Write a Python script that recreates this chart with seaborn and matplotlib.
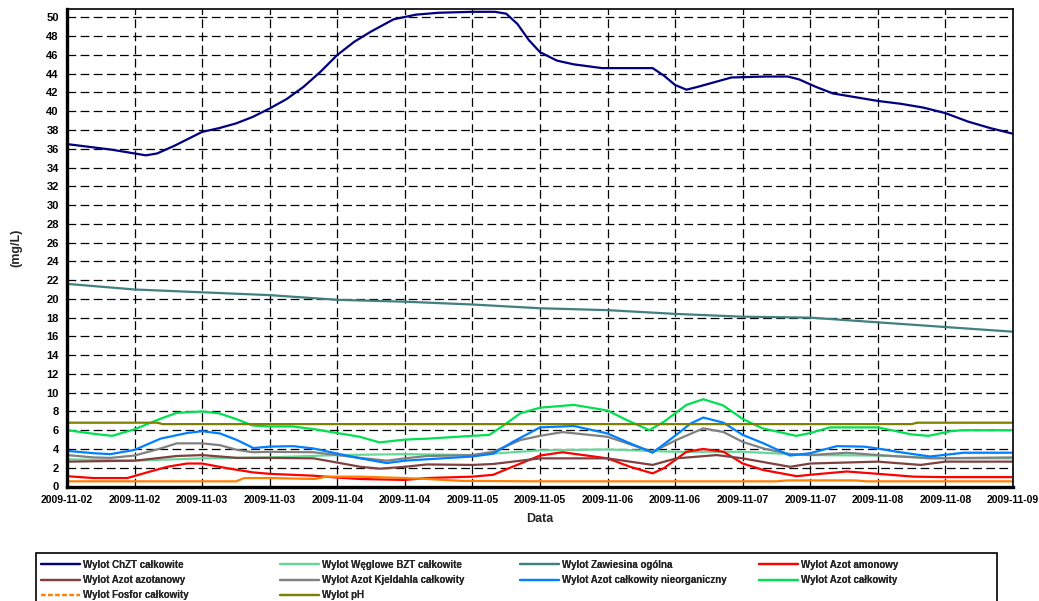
import numpy as np
import pandas as pd
import matplotlib
matplotlib.use("Agg")
import matplotlib.pyplot as plt
import matplotlib.dates as mdates
from matplotlib.lines import Line2D
from matplotlib.patches import Rectangle
from matplotlib.ticker import MultipleLocator
import seaborn as sns

# ---------------- data (hours since 2009-11-02 00:00, mg/L) ----------------
chzt_h = [0, 4, 8, 12, 14, 16, 19, 22, 24, 27, 30, 33, 36, 39, 42, 45, 48, 51, 54, 58,
          62, 66, 72, 76, 78, 80, 82, 84, 87, 90, 95, 100, 104, 106, 108, 110, 112, 115, 118, 124,
          128, 130, 133, 136, 140, 144, 148, 152, 156, 160, 164, 168]
chzt_v = [36.5, 36.2, 35.9, 35.5, 35.3, 35.5, 36.3, 37.2, 37.8, 38.2, 38.7, 39.4, 40.3, 41.3, 42.6, 44.2, 46.0, 47.4, 48.5, 49.8,
          50.3, 50.5, 50.6, 50.6, 50.4, 49.3, 47.6, 46.3, 45.4, 45.0, 44.6, 44.6, 44.6, 43.8, 42.8, 42.3, 42.6, 43.1, 43.6, 43.7,
          43.7, 43.4, 42.6, 41.9, 41.5, 41.1, 40.8, 40.4, 39.8, 38.9, 38.2, 37.6]

bzt_h = [0, 12, 24, 36, 48, 60, 72, 84, 96, 108, 120, 132, 144, 156, 168]
bzt_v = [2.9, 2.75, 3.0, 3.1, 3.35, 3.45, 3.35, 3.85, 3.95, 3.7, 3.7, 3.35, 3.3, 3.0, 3.0]

zaw_h = [0, 12, 24, 36, 48, 60, 72, 84, 96, 108, 120, 132, 144, 156, 168]
zaw_v = [21.6, 21.0, 20.7, 20.4, 19.9, 19.7, 19.4, 19.0, 18.8, 18.4, 18.1, 18.0, 17.5, 17.0, 16.5]

amon_h = [0, 4.7, 10.7, 14.2, 17.8, 21.3, 24, 28.4, 33.1, 36, 43.8, 48, 52.1, 60, 63.9, 72, 75.7, 78.7, 84, 88,
          96, 100, 104, 106, 110, 113, 116.6, 120, 123.7, 129.6, 132, 138.5, 144, 150.4, 156, 168]
amon_v = [1.1, 0.9, 0.9, 1.5, 2.1, 2.45, 2.45, 1.95, 1.5, 1.35, 1.15, 0.95, 0.8, 0.7, 0.9, 1.05, 1.25, 2.0, 3.3, 3.65,
          3.0, 2.1, 1.4, 1.95, 3.7, 4.0, 3.7, 2.45, 1.75, 1.1, 1.25, 1.6, 1.35, 1.05, 1.0, 1.0]

azot_h = [0, 12, 19.5, 24, 30.2, 36, 43.8, 48, 52.1, 55.6, 60, 63.9, 72, 75.7, 84, 96, 104, 108.2, 115.4, 120,
          128.4, 132, 144, 151.6, 156, 168]
azot_v = [2.65, 2.75, 3.25, 3.35, 3.05, 3.05, 3.0, 2.55, 2.1, 1.9, 2.1, 2.35, 2.3, 2.4, 3.0, 3.0, 2.3, 3.0, 3.35, 3.0,
          2.1, 2.45, 2.65, 2.3, 2.65, 2.65]

kjel_h = [0, 4.7, 7.7, 12, 16.6, 19.5, 24, 27.2, 30.2, 33.1, 36, 43.8, 48, 52.1, 56.8, 60, 63.9, 72, 75.7, 80.5,
          84, 88, 96, 100, 104, 108.2, 113, 116.6, 120, 123.7, 128.4, 132, 138.5, 144, 153.3, 168]
kjel_v = [3.35, 3.1, 3.05, 3.3, 4.05, 4.6, 4.6, 4.4, 3.9, 3.65, 3.7, 3.65, 3.35, 3.05, 2.75, 3.0, 3.25, 3.35, 3.7, 4.95,
          5.4, 5.8, 5.3, 4.5, 3.7, 4.95, 6.2, 5.8, 4.75, 4.05, 3.45, 3.35, 3.6, 3.35, 3.0, 3.1]

nieorg_h = [0, 4.7, 7.7, 12, 16.6, 21.3, 24, 27.2, 30.2, 33.1, 36, 40.2, 43.8, 48, 52.1, 56.8, 60, 63.9, 72, 75.7,
            79.3, 84, 90, 96, 100, 104, 108.2, 110.7, 113, 116.6, 120, 123.7, 128.4, 132, 136.7, 141.5, 144, 147.4, 153.3, 159.3,
            168]
nieorg_v = [3.8, 3.55, 3.45, 3.9, 5.1, 5.7, 5.9, 5.65, 4.95, 4.1, 4.25, 4.3, 4.05, 3.5, 3.0, 2.5, 2.75, 2.9, 3.2, 3.5,
            4.8, 6.3, 6.45, 5.65, 4.6, 3.6, 5.5, 6.7, 7.35, 6.8, 5.5, 4.6, 3.3, 3.55, 4.3, 4.25, 4.05, 3.7, 3.2, 3.6,
            3.6]

calk_h = [0, 5, 8, 12, 16.5, 19.5, 24, 27, 30, 33, 36, 40, 44, 48, 52, 55.5, 60, 64, 72, 75,
          77.5, 80.5, 84, 90, 96, 99, 103.4, 106, 110, 113, 116.5, 120, 123.5, 129.5, 132, 135.5, 144, 150, 153, 157,
          159, 168]
calk_v = [6.0, 5.6, 5.4, 6.1, 7.2, 7.85, 8.0, 7.8, 7.2, 6.5, 6.4, 6.4, 6.1, 5.7, 5.3, 4.7, 5.0, 5.1, 5.4, 5.5,
          6.5, 7.8, 8.4, 8.7, 8.1, 7.2, 6.0, 6.9, 8.7, 9.3, 8.65, 7.2, 6.2, 5.4, 5.7, 6.3, 6.3, 5.55, 5.4, 5.9,
          6.0, 6.0]

fosf_h = [0, 30, 31.5, 36, 44, 46, 52, 60, 64, 70, 84, 126, 128, 140, 142, 168]
fosf_v = [0.55, 0.55, 0.9, 0.9, 0.8, 1.05, 1.05, 0.9, 0.8, 0.6, 0.55, 0.55, 0.65, 0.65, 0.55, 0.55]

ph_h = [0, 16, 17, 150, 151, 168]
ph_v = [6.8, 6.8, 6.65, 6.65, 6.8, 6.8]

names = ["Wylot ChZT całkowite", "Wylot Węglowe BZT całkowite", "Wylot Zawiesina ogólna",
         "Wylot Azot amonowy", "Wylot Azot azotanowy", "Wylot Azot Kjeldahla całkowity",
         "Wylot Azot całkowity nieorganiczny", "Wylot Azot całkowity",
         "Wylot Fosfor całkowity", "Wylot pH"]
colors = ["#000080", "#66d999", "#408080", "#ff0000", "#804040", "#808080",
          "#0080ff", "#00e050", "#ff8000", "#808000"]
series = [(chzt_h, chzt_v), (bzt_h, bzt_v), (zaw_h, zaw_v), (amon_h, amon_v),
          (azot_h, azot_v), (kjel_h, kjel_v), (nieorg_h, nieorg_v), (calk_h, calk_v),
          (fosf_h, fosf_v), (ph_h, ph_v)]

base = pd.Timestamp("2009-11-02 00:00")
frames = []
for name, (hh, vv) in zip(names, series):
    frames.append(pd.DataFrame({
        "time": base + pd.to_timedelta(np.array(hh, dtype=float), unit="h"),
        "value": vv,
        "series": name,
    }))
df = pd.concat(frames, ignore_index=True)

# ---------------- style ----------------
sns.set_style("white")
plt.rcParams["font.family"] = ["Liberation Sans", "DejaVu Sans"]
plt.rcParams["font.weight"] = "bold"
plt.rcParams["axes.labelweight"] = "bold"

W, H = 1039, 601
fig = plt.figure(figsize=(W / 100, H / 100), dpi=100)
ax = fig.add_axes([67 / W, 1 - 486.5 / H, (1013 - 67) / W, (486.5 - 9) / H])

sns.lineplot(data=df, x="time", y="value", hue="series", hue_order=names,
             palette=dict(zip(names, colors)), linewidth=1.6, estimator=None,
             legend=False, ax=ax)

ax.set_xlim(base, base + pd.Timedelta(hours=168))
ax.set_ylim(0, 50.9)

ax.xaxis.set_major_locator(mdates.HourLocator(byhour=[0, 12]))
ax.xaxis.set_minor_locator(mdates.HourLocator(byhour=[6, 18]))
ax.xaxis.set_major_formatter(mdates.DateFormatter("%Y-%m-%d"))
ax.yaxis.set_major_locator(MultipleLocator(2))
ax.yaxis.set_minor_locator(MultipleLocator(0.5))

ax.set_axisbelow(True)
ax.grid(True, which="major", color="black", linestyle=(0, (7, 3.5)), linewidth=0.9)

for side in ["left", "bottom"]:
    ax.spines[side].set_linewidth(2.4)
for side in ["top", "right"]:
    ax.spines[side].set_linewidth(1.2)
for s in ax.spines.values():
    s.set_color("black")

ax.tick_params(axis="both", which="major", direction="out", length=4, width=1,
               colors="black", pad=2)
ax.tick_params(axis="both", which="minor", direction="out", length=2, width=0.8,
               colors="black")
ax.tick_params(axis="x", which="major", labelsize=7.5)
ax.tick_params(axis="y", which="major", labelsize=8)

ax.set_xlabel("Data", fontsize=9, fontweight="bold")
ax.set_ylabel("(mg/L)", fontsize=9, fontweight="bold")
ax.xaxis.set_label_coords(0.5, -(513 - 486.5) / 477.5)
ax.yaxis.set_label_coords((22 - 67) / 946, 0.5)

# ---------------- legend (4 evenly spaced columns inside one box) ----------------
fig.patches.append(Rectangle((36 / W, -0.05), (997 - 36) / W, 0.05 + 1 - 553 / H,
                             transform=fig.transFigure, facecolor="white",
                             edgecolor="black", linewidth=1.2, zorder=0))
handles = {}
for name, col in zip(names, colors):
    ls = (0, (2, 1.2)) if name == "Wylot Fosfor całkowity" else "-"
    handles[name] = Line2D([0], [0], color=col, linewidth=1.6, linestyle=ls)
columns = [[0, 4, 8], [1, 5, 9], [2, 6], [3, 7]]
col_x = [41, 280, 520, 759]
for idxs, cx in zip(columns, col_x):
    lg = fig.legend([handles[names[i]] for i in idxs], [names[i] for i in idxs],
                    loc="upper left", bbox_to_anchor=(cx / W, 1 - 559.5 / H),
                    ncol=1, fontsize=7, frameon=False, borderpad=0, borderaxespad=0,
                    handlelength=4, handletextpad=0.3, labelspacing=0.56)
    fig.add_artist(lg)

fig.savefig("out.png", dpi=100)
